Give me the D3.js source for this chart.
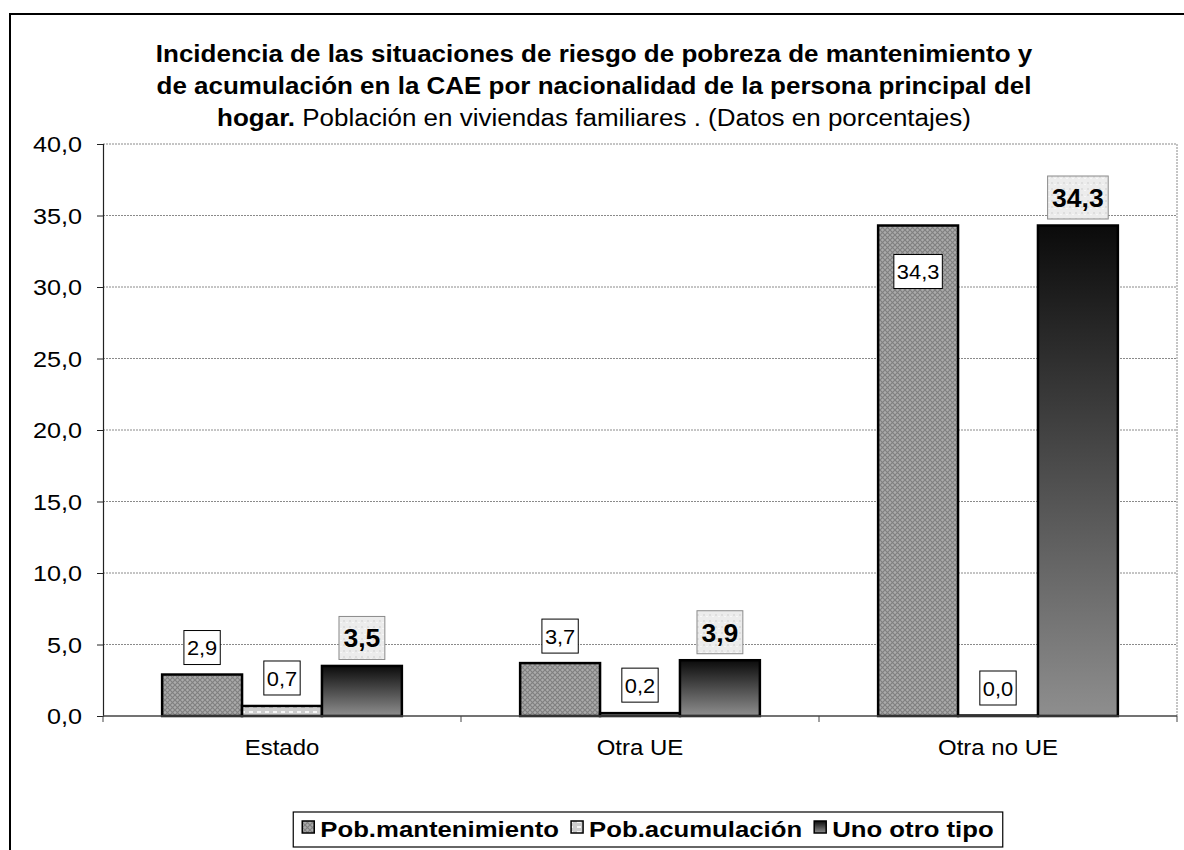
<!DOCTYPE html>
<html>
<head>
<meta charset="utf-8">
<script src="https://cdn.jsdelivr.net/npm/d3@7"></script>
<style>
  html, body { margin: 0; padding: 0; background: #fff; }
  svg text { font-family: "Liberation Sans", Arial, sans-serif; fill: #000; }
</style>
</head>
<body>
<svg id="chart" width="1184" height="850"></svg>
<script>
// ---------- data ----------
const categories = ["Estado", "Otra UE", "Otra no UE"];
const seriesNames = ["Pob.mantenimiento", "Pob.acumulación", "Uno otro tipo"];
const mantenimiento = [2.9, 3.7, 34.3];
const acumulacion = [0.7, 0.2, 0.0];
const otroTipo = [3.5, 3.9, 34.3];
const yTickValues = [0, 5, 10, 15, 20, 25, 30, 35, 40];
const titleLine1 = "Incidencia de las situaciones de riesgo de pobreza de mantenimiento y";
const titleLine2 = "de acumulación en la CAE por nacionalidad de la persona principal del";
const titleLine3Bold = "hogar.";
const titleLine3Normal = " Población en viviendas familiares . (Datos en porcentajes)";

const seriesValues = [mantenimiento, acumulacion, otroTipo];

// ---------- layout ----------
const svg = d3.select("#chart");
const plot = { left: 103, right: 1177, top: 144, bottom: 716 };
const fmt = v => d3.format(".1f")(v).replace(".", ",");

// ---------- defs (patterns & gradients) ----------
const defs = svg.append("defs");
const p1 = defs.append("pattern").attr("id", "patMant").attr("patternUnits", "userSpaceOnUse")
  .attr("width", 5).attr("height", 5);
p1.append("rect").attr("width", 5).attr("height", 5).attr("fill", "#ababab");
p1.append("path").attr("d", "M0,0L5,5M5,0L0,5").attr("stroke", "#808080").attr("stroke-width", 1.2);

const p2 = defs.append("pattern").attr("id", "patAcum").attr("patternUnits", "userSpaceOnUse")
  .attr("width", 8).attr("height", 5);
p2.append("rect").attr("width", 8).attr("height", 5).attr("fill", "#cdcdcd");
p2.append("rect").attr("x", 1).attr("y", 1).attr("width", 4).attr("height", 2).attr("fill", "#f6f6f6");

const g3 = defs.append("linearGradient").attr("id", "gradOtro")
  .attr("x1", 0).attr("y1", 0).attr("x2", 0).attr("y2", 1);
g3.append("stop").attr("offset", "0%").attr("stop-color", "#0b0b0b");
g3.append("stop").attr("offset", "100%").attr("stop-color", "#8e8e8e");

const pLab = defs.append("pattern").attr("id", "patLabel").attr("patternUnits", "userSpaceOnUse")
  .attr("width", 6).attr("height", 6);
pLab.append("rect").attr("width", 6).attr("height", 6).attr("fill", "#ececec");
pLab.append("rect").attr("x", 1).attr("y", 2).attr("width", 2).attr("height", 2).attr("fill", "#dedede");
pLab.append("rect").attr("x", 4).attr("y", 4).attr("width", 2).attr("height", 1).attr("fill", "#f7f7f7");

const fills = ["url(#patMant)", "url(#patAcum)", "url(#gradOtro)"];

// ---------- outer frame ----------
svg.append("rect").attr("x", 10).attr("y", 14).attr("width", 1200).attr("height", 900)
  .attr("fill", "#fff").attr("stroke", "#000").attr("stroke-width", 2);

// ---------- scales ----------
const x0 = d3.scaleBand().domain(categories).range([plot.left, plot.right]).paddingInner(0).paddingOuter(0);
const x1 = d3.scaleBand().domain(d3.range(seriesNames.length)).range([0, x0.bandwidth()])
  .paddingInner(0).paddingOuter(0.74);
const y = d3.scaleLinear().domain([0, 40]).range([plot.bottom, plot.top]);

// ---------- gridlines ----------
svg.append("g").selectAll("line").data(yTickValues.filter(v => v > 0)).join("line")
  .attr("x1", plot.left).attr("x2", plot.right)
  .attr("y1", d => y(d)).attr("y2", d => y(d))
  .attr("stroke", "#8a8a8a").attr("stroke-width", 1).attr("stroke-dasharray", "2,1");
svg.append("line").attr("x1", plot.right).attr("x2", plot.right).attr("y1", plot.top).attr("y2", plot.bottom)
  .attr("stroke", "#8a8a8a").attr("stroke-width", 1).attr("stroke-dasharray", "2,1");

// ---------- y axis ----------
const yAxis = d3.axisLeft(y).tickValues(yTickValues).tickFormat(fmt).tickSize(6).tickPadding(0);
const yG = svg.append("g").attr("transform", `translate(${plot.left},0)`).call(yAxis);
yG.select(".domain").attr("stroke", "#222").attr("stroke-width", 1.2);
yG.selectAll(".tick line").attr("stroke", "#222");
yG.selectAll(".tick text")
  .attr("x", 0).attr("dy", "0.36em")
  .attr("transform", "translate(-21,0) scale(1.145,1)")
  .style("font-size", "22px").attr("text-anchor", "end");

// ---------- bars ----------
const barG = svg.append("g");
categories.forEach((cat, ci) => {
  seriesValues.forEach((vals, si) => {
    const v = vals[ci];
    const h = Math.max(plot.bottom - y(v), 0.5);
    barG.append("rect")
      .attr("x", x0(cat) + x1(si))
      .attr("y", plot.bottom - h)
      .attr("width", x1.bandwidth())
      .attr("height", h)
      .attr("fill", fills[si])
      .attr("stroke", "#000")
      .attr("stroke-width", 2.5);
  });
});

// ---------- x axis ----------
const xAxisG = svg.append("g");
xAxisG.append("line").attr("x1", plot.left).attr("x2", plot.right)
  .attr("y1", plot.bottom).attr("y2", plot.bottom)
  .attr("stroke", "#444").attr("stroke-width", 1.5);
const boundaries = categories.map(c => x0(c)).concat([x0(categories[categories.length - 1]) + x0.bandwidth()]);
xAxisG.selectAll("line.tk").data(boundaries).join("line").attr("class", "tk")
  .attr("x1", d => d).attr("x2", d => d).attr("y1", plot.bottom).attr("y2", plot.bottom + 6)
  .attr("stroke", "#444").attr("stroke-width", 1);
xAxisG.selectAll("text").data(categories).join("text")
  .attr("transform", d => `translate(${x0(d) + x0.bandwidth() / 2},755) scale(1.09,1)`)
  .attr("text-anchor", "middle").style("font-size", "22px")
  .text(d => d);

// ---------- data labels ----------
const labG = svg.append("g");
categories.forEach((cat, ci) => {
  seriesValues.forEach((vals, si) => {
    const v = vals[ci];
    const cx = x0(cat) + x1(si) + x1.bandwidth() / 2;
    const bold = si === 2;
    const inside = si === 0 && v > 20;
    const cy = inside ? y(v) + 46 : y(v) - (si === 0 ? 27 : 28);
    const sx = bold ? 1.02 : 1.04;
    const fs = bold ? 26 : 21;
    const t = labG.append("text")
      .attr("transform", `translate(${cx},${cy}) scale(${sx},1)`)
      .attr("text-anchor", "middle").attr("dy", "0.36em")
      .style("font-size", fs + "px").style("font-weight", bold ? "bold" : "normal")
      .text(fmt(v));
    const w = t.node().getComputedTextLength() * sx;
    const bw = w + (bold ? 9 : 6);
    const bh = bold ? 43 : 34;
    labG.insert("rect", "text")
      .attr("x", cx - bw / 2).attr("y", cy - bh / 2)
      .attr("width", bw).attr("height", bh)
      .attr("fill", bold ? "url(#patLabel)" : "#fff")
      .attr("stroke", bold ? "#8a8a8a" : "#000").attr("stroke-width", 1);
  });
});

// ---------- title ----------
const titleG = svg.append("g");
const tsx = 1.13;
[titleLine1, titleLine2].forEach((line, i) => {
  titleG.append("text")
    .attr("transform", `translate(594,${62 + i * 32}) scale(${tsx},1)`)
    .attr("text-anchor", "middle").style("font-size", "23px").style("font-weight", "bold")
    .text(line);
});
const t3 = titleG.append("text")
  .attr("transform", `translate(594,126) scale(${tsx},1)`)
  .attr("text-anchor", "middle").style("font-size", "23px");
t3.append("tspan").style("font-weight", "bold").text(titleLine3Bold);
t3.append("tspan").style("font-weight", "normal").text(titleLine3Normal);

// ---------- legend ----------
const legG = svg.append("g");
const lsx = 1.17;
const legendCenter = 648, legendBaseline = 837;
const items = [];
seriesNames.forEach((name, i) => {
  const t = legG.append("text").style("font-size", "22px").style("font-weight", "bold")
    .attr("text-anchor", "start").text(name);
  items.push({ t, w: t.node().getComputedTextLength() * lsx, fill: fills[i] });
});
const markerW = 12, markerGap = 6, itemGap = 12;
const total = d3.sum(items, d => markerW + markerGap + d.w) + itemGap * (items.length - 1);
let cursor = legendCenter - total / 2;
const legStart = cursor;
items.forEach(it => {
  legG.append("rect").attr("x", cursor).attr("y", legendBaseline - 16)
    .attr("width", markerW).attr("height", markerW)
    .attr("fill", it.fill).attr("stroke", "#000").attr("stroke-width", 1.5);
  it.t.attr("transform", `translate(${cursor + markerW + markerGap},${legendBaseline}) scale(${lsx},1)`);
  cursor += markerW + markerGap + it.w + itemGap;
});
const legEnd = cursor - itemGap;
legG.insert("rect", ":first-child")
  .attr("x", legStart - 9).attr("y", 812)
  .attr("width", legEnd - legStart + 18).attr("height", 35)
  .attr("fill", "#fff").attr("stroke", "#000").attr("stroke-width", 1.2);
</script>
</body>
</html>
